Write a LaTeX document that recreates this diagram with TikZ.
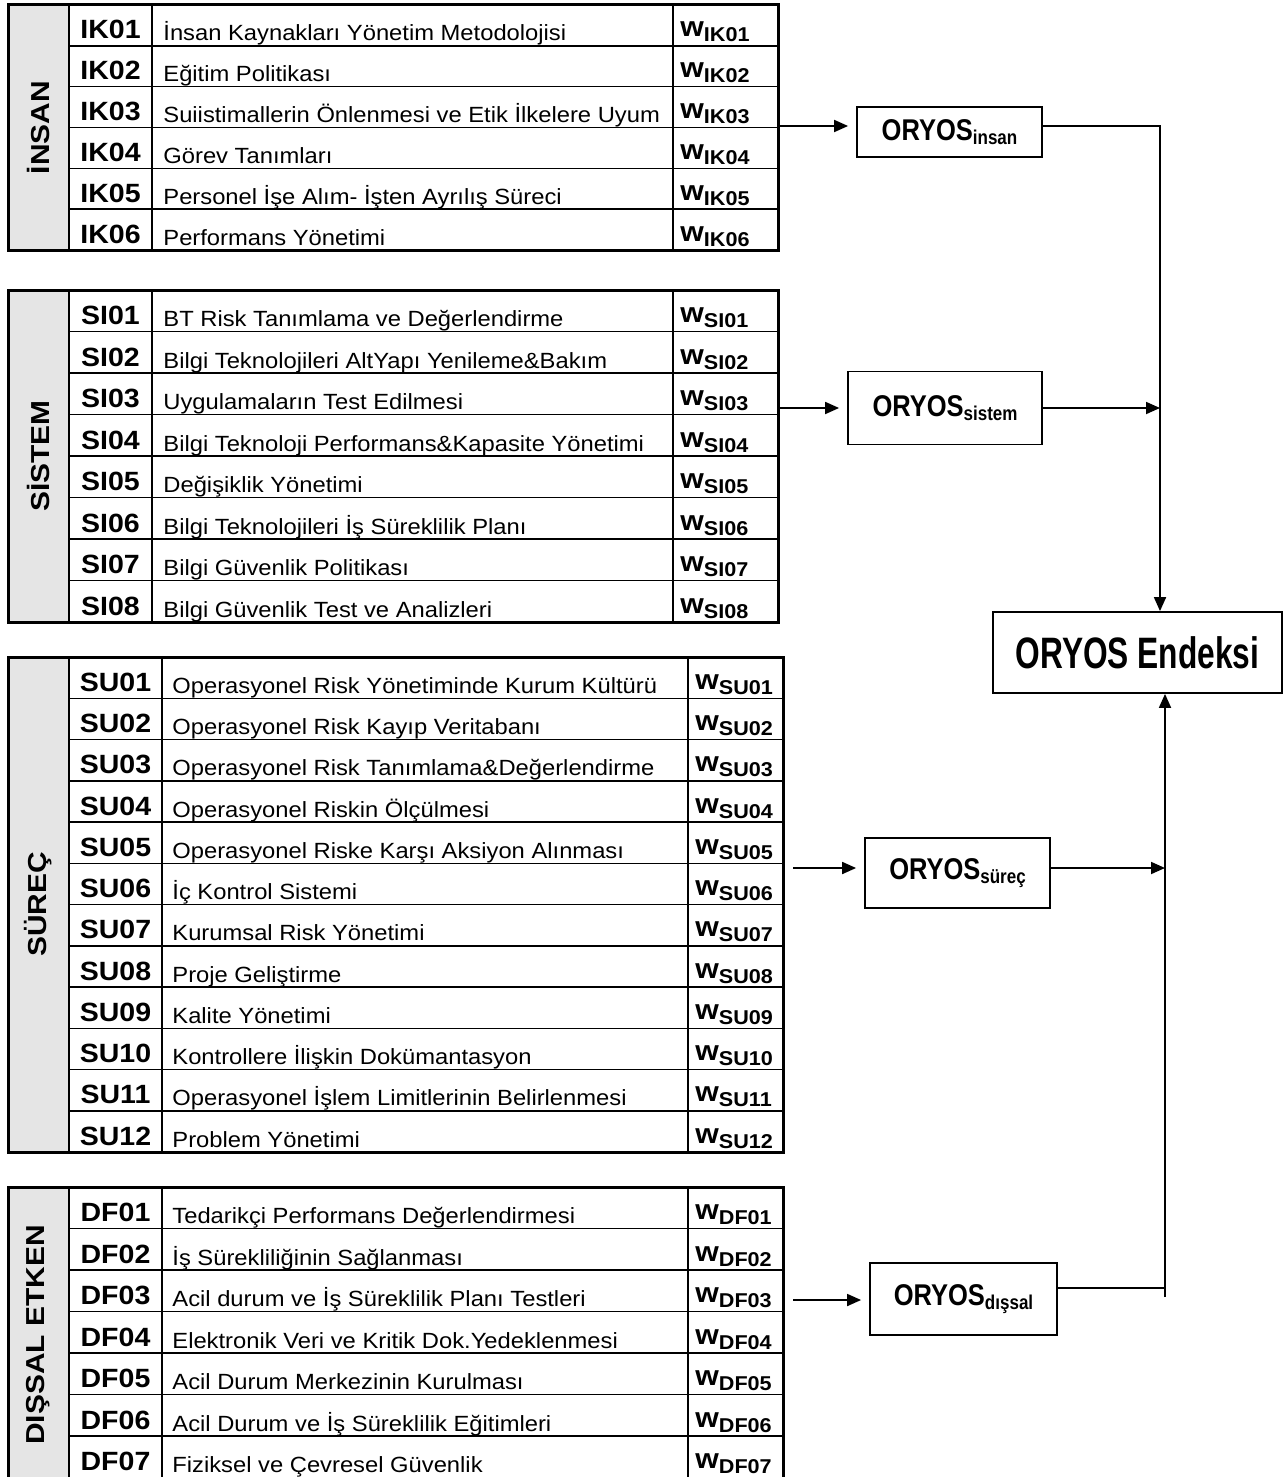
\documentclass[tikz,border=0pt]{standalone}
\usepackage{fontspec}
\setmainfont{Liberation Sans}[FakeStretch=1.08]
\newfontfamily\grupfont{Liberation Sans}[FakeStretch=1.15]
\newfontfamily\oryosfont{Liberation Sans}[FakeStretch=0.85]
\newfontfamily\endeksfont{Liberation Sans}[FakeStretch=0.72]
\usetikzlibrary{arrows.meta,positioning}

\begin{document}
\begin{tikzpicture}[x=0.5pt,y=-0.5pt,
    cerceve/.style={line width=1.5pt},
    ince/.style={line width=0.75pt},
    ayrac/.style={line width=1.1pt},
    gri/.style={fill=black!10},
    kod/.style={font=\bfseries\fontsize{13.2}{15}\selectfont, anchor=base, inner sep=0pt},
    metin/.style={font=\fontsize{11}{13}\selectfont, anchor=base west, inner sep=0pt},
    agirlik/.style={font=\bfseries\fontsize{14}{16}\selectfont, anchor=base west, inner sep=0pt},
    grup/.style={font=\grupfont\bfseries\fontsize{13}{15}\selectfont, rotate=90},
    oryos/.style={draw, line width=0.9pt, font=\oryosfont\bfseries\fontsize{15}{17}\selectfont},
    endeks/.style={draw, line width=0.9pt, font=\endeksfont\bfseries\fontsize{22}{26}\selectfont},
    hat/.style={line width=0.9pt},
    ok/.style={hat, -{Triangle[length=7pt,width=6pt]}},
    giris/.style={ok, shorten >=4pt}]

    \useasboundingbox (0,0) rectangle (1288,1477);

    % Tablo: INSAN
    \fill[gri] (8,5) rectangle (69,250);
    \foreach \kod/\metin [count=\i] in {IK01/İnsan Kaynakları Yönetim Metodolojisi,
        IK02/Eğitim Politikası,
        IK03/Suiistimallerin Önlenmesi ve Etik İlkelere Uyum,
        IK04/Görev Tanımları,
        IK05/Personel İşe Alım- İşten Ayrılış Süreci,
        IK06/Performans Yönetimi}{
        \pgfmathsetmacro\yalt{5+\i*245/6}
        \draw[ince] (69,\yalt) -- (778,\yalt);
        \node[kod] (\kod) at (110.5,\yalt-7) {\kod};
        \node[metin] (m\kod) at (163,\yalt-5) {\metin};
        \node[agirlik] (w\kod) at (680,\yalt-9) {w\raisebox{-2.5pt}{\fontsize{10}{11}\selectfont\kod}};
    }
    \draw[ince] (152,5) -- (152,250) (673,5) -- (673,250);
    \draw[ayrac] (69,5) -- (69,250);
    \draw[cerceve] (8,5) rectangle (778,250);
    \node[grup] (insan) at (38.5,127.5) {İNSAN};

    % Tablo: SISTEM
    \fill[gri] (8,290) rectangle (69,622);
    \foreach \kod/\metin [count=\i] in {SI01/BT Risk Tanımlama ve Değerlendirme,
        SI02/Bilgi Teknolojileri AltYapı Yenileme\&Bakım,
        SI03/Uygulamaların Test Edilmesi,
        SI04/Bilgi Teknoloji Performans\&Kapasite Yönetimi,
        SI05/Değişiklik Yönetimi,
        SI06/Bilgi Teknolojileri İş Süreklilik Planı,
        SI07/Bilgi Güvenlik Politikası,
        SI08/Bilgi Güvenlik Test ve Analizleri}{
        \pgfmathsetmacro\yalt{290+\i*41.5}
        \draw[ince] (69,\yalt) -- (778,\yalt);
        \node[kod] (\kod) at (110.5,\yalt-7) {\kod};
        \node[metin] (m\kod) at (163,\yalt-5) {\metin};
        \node[agirlik] (w\kod) at (680,\yalt-9) {w\raisebox{-2.5pt}{\fontsize{10}{11}\selectfont\kod}};
    }
    \draw[ince] (152,290) -- (152,622) (673,290) -- (673,622);
    \draw[ayrac] (69,290) -- (69,622);
    \draw[cerceve] (8,290) rectangle (778,622);
    \node[grup] (sistem) at (38.5,456) {SİSTEM};

    % Tablo: SUREC
    \fill[gri] (8,657) rectangle (69,1152);
    \foreach \kod/\metin [count=\i] in {SU01/Operasyonel Risk Yönetiminde Kurum Kültürü,
        SU02/Operasyonel Risk Kayıp Veritabanı,
        SU03/Operasyonel Risk Tanımlama\&Değerlendirme,
        SU04/Operasyonel Riskin Ölçülmesi,
        SU05/Operasyonel Riske Karşı Aksiyon Alınması,
        SU06/İç Kontrol Sistemi,
        SU07/Kurumsal Risk Yönetimi,
        SU08/Proje Geliştirme,
        SU09/Kalite Yönetimi,
        SU10/Kontrollere İlişkin Dokümantasyon,
        SU11/Operasyonel İşlem Limitlerinin Belirlenmesi,
        SU12/Problem Yönetimi}{
        \pgfmathsetmacro\yalt{657+\i*41.25}
        \draw[ince] (69,\yalt) -- (783,\yalt);
        \node[kod] (\kod) at (115.5,\yalt-7) {\kod};
        \node[metin] (m\kod) at (172,\yalt-5) {\metin};
        \node[agirlik] (w\kod) at (695,\yalt-9) {w\raisebox{-2.5pt}{\fontsize{10}{11}\selectfont\kod}};
    }
    \draw[ince] (162,657) -- (162,1152) (688,657) -- (688,1152);
    \draw[ayrac] (69,657) -- (69,1152);
    \draw[cerceve] (8,657) rectangle (783,1152);
    \node[grup] (surec) at (38.5,904.5) {SÜREÇ};

    % Tablo: DISSAL ETKEN (alt kenar kesik)
    \fill[gri] (8,1187) rectangle (69,1482);
    \foreach \kod/\metin [count=\i] in {DF01/Tedarikçi Performans Değerlendirmesi,
        DF02/İş Sürekliliğinin Sağlanması,
        DF03/Acil durum ve İş Süreklilik Planı Testleri,
        DF04/Elektronik Veri ve Kritik Dok.Yedeklenmesi,
        DF05/Acil Durum Merkezinin Kurulması,
        DF06/Acil Durum ve İş Süreklilik Eğitimleri,
        DF07/Fiziksel ve Çevresel Güvenlik}{
        \pgfmathsetmacro\yalt{1187+\i*41.5}
        \draw[ince] (69,\yalt) -- (783,\yalt);
        \node[kod] (\kod) at (115.5,\yalt-7) {\kod};
        \node[metin] (m\kod) at (172,\yalt-5) {\metin};
        \node[agirlik] (w\kod) at (695,\yalt-9) {w\raisebox{-2.5pt}{\fontsize{10}{11}\selectfont\kod}};
    }
    \draw[ince] (162,1187) -- (162,1482) (688,1187) -- (688,1482);
    \draw[ayrac] (69,1187) -- (69,1482);
    \draw[cerceve] (8,1187) rectangle (783,1482);
    \node[grup] (dissal) at (38.5,1335) {DIŞSAL ETKEN};

    % ORYOS kutulari
    \node[oryos, minimum width=92.5pt, minimum height=25pt] (oinsan) at (949.5,132) {ORYOS\raisebox{-2pt}{\fontsize{10}{11}\selectfont insan}};
    \node[oryos, minimum width=97pt, minimum height=36.5pt] (osistem) at (945,408) {ORYOS\raisebox{-2pt}{\fontsize{10}{11}\selectfont sistem}};
    \node[oryos, minimum width=92.5pt, minimum height=35pt] (osurec) at (957.5,873) {ORYOS\raisebox{-2pt}{\fontsize{10}{11}\selectfont süreç}};
    \node[oryos, minimum width=93.5pt, minimum height=36pt] (odissal) at (963.5,1299) {ORYOS\raisebox{-2pt}{\fontsize{10}{11}\selectfont dışsal}};
    \node[endeks, minimum width=144.5pt, minimum height=40.5pt] (endeks) at (1137.5,652.5) {ORYOS Endeksi};

    % Tablolardan kutulara
    \coordinate (ik) at (778,126);
    \coordinate (si) at (778,408);
    \coordinate (su) at (793,868);
    \coordinate (df) at (793,1300);
    \draw[giris] (ik) -- (ik -| oinsan.west);
    \draw[giris] (si) -- (si -| osistem.west);
    \draw[giris] (su) -- (su -| osurec.west);
    \draw[giris] (df) -- (df -| odissal.west);

    % Endekse baglantilar
    \coordinate (kose) at (1160,126);
    \coordinate (dip) at (1165,1297);
    \draw[ok] (oinsan.east |- kose) -- (kose) -- (kose |- endeks.north);
    \draw[ok] (osistem.east) -- (osistem.east -| kose);
    \draw[ok] (osurec.east |- su) -- (su -| dip);
    \draw[hat] ([yshift=5.5pt]odissal.east) coordinate (dc) -- (dc -| dip);
    \draw[ok] (dip) -- (dip |- endeks.south);

\end{tikzpicture}
\end{document}
